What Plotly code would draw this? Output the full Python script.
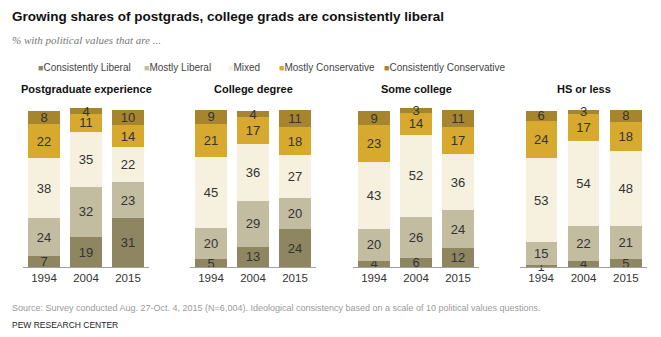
import plotly.graph_objects as go

# ---- data -------------------------------------------------------------
groups = ["Postgraduate experience", "College degree", "Some college", "HS or less"]
years = ["1994", "2004", "2015"]

# one list per education group, values for 1994 / 2004 / 2015
consistently_liberal = [[7, 19, 31], [5, 13, 24], [4, 6, 12], [1, 4, 5]]
mostly_liberal = [[24, 32, 23], [20, 29, 20], [20, 26, 24], [15, 22, 21]]
mixed = [[38, 35, 22], [45, 36, 27], [43, 52, 36], [53, 54, 48]]
mostly_conservative = [[22, 11, 14], [21, 17, 18], [23, 14, 17], [24, 17, 18]]
consistently_conservative = [[8, 4, 10], [9, 4, 11], [9, 3, 11], [6, 3, 8]]

series_names = ["Consistently Liberal", "Mostly Liberal", "Mixed",
                "Mostly Conservative", "Consistently Conservative"]
series_values = [consistently_liberal, mostly_liberal, mixed,
                 mostly_conservative, consistently_conservative]
series_colors = ["#8e8660", "#c2bca1", "#f6f0de", "#d7a92f", "#a6852e"]

# ---- layout geometry (pixels) -----------------------------------------
W, H = 661, 337
M_TOP, M_BOT = 103, 70
PLOT_H = H - M_TOP - M_BOT
BASE_Y = H - M_BOT
domains_px = [(23, 149), (190, 316), (353, 479), (520, 647)]

FONT = "Liberation Sans Narrow, Arial Narrow, Liberation Sans, Arial, sans-serif"


def py(y_px):
    """Pixel row -> paper y coordinate."""
    return (BASE_Y - y_px) / PLOT_H


def px(x_px):
    return x_px / W


fig = go.Figure()

for gi, group in enumerate(groups):
    xa = "x" if gi == 0 else f"x{gi + 1}"
    ya = "y" if gi == 0 else f"y{gi + 1}"
    for name, vals, color in zip(series_names, series_values, series_colors):
        fig.add_trace(go.Bar(
            x=years,
            y=vals[gi],
            name=name,
            marker=dict(color=color, line=dict(width=0)),
            text=[str(v) for v in vals[gi]],
            textposition="inside",
            insidetextanchor="middle",
            textangle=0,
            textfont=dict(family=FONT, size=13, color="#333333"),
            cliponaxis=False,
            showlegend=False,
            hoverinfo="skip",
            xaxis=xa,
            yaxis=ya,
        ))

layout = dict(
    width=W, height=H,
    margin=dict(l=0, r=0, t=M_TOP, b=M_BOT, pad=0),
    barmode="stack",
    bargap=0.26,
    plot_bgcolor="white",
    paper_bgcolor="white",
    showlegend=False,
    uniformtext=dict(minsize=13, mode="show"),
    font=dict(family=FONT, color="#333333"),
)

for gi, (a, b) in enumerate(domains_px):
    suffix = "" if gi == 0 else str(gi + 1)
    layout[f"xaxis{suffix}"] = dict(
        domain=[px(a), px(b)],
        anchor=f"y{suffix}",
        range=[-0.5, 2.5],
        showline=True, linecolor="#a0a0a0", linewidth=1,
        showgrid=False, zeroline=False, ticks="",
        tickfont=dict(family=FONT, size=11.5, color="#333333"),
        fixedrange=True,
    )
    layout[f"yaxis{suffix}"] = dict(
        domain=[0, 1],
        anchor=f"x{suffix}",
        range=[0, PLOT_H / 1.574],
        visible=False,
        fixedrange=True,
    )

fig.update_layout(**layout)

annotations = []

# chart title and subtitle
annotations.append(dict(
    text="<b>Growing shares of postgrads, college grads are consistently liberal</b>",
    x=px(10), y=py(16), xref="paper", yref="paper",
    xanchor="left", yanchor="middle", showarrow=False,
    font=dict(family=FONT, size=13.5, color="#111111"),
))
annotations.append(dict(
    text="<i>% with political values that are ...</i>",
    x=px(10), y=py(40), xref="paper", yref="paper",
    xanchor="left", yanchor="middle", showarrow=False,
    font=dict(family="Liberation Serif, serif", size=11, color="#777777"),
))

# legend row
legend_x = [36, 142, 226, 277, 382]
for name, color, lx in zip(series_names, series_colors, legend_x):
    annotations.append(dict(
        text=f"<span style='color:{color};font-size:9px'>■</span>{name}",
        x=px(lx), y=py(67), xref="paper", yref="paper",
        xanchor="left", yanchor="middle", showarrow=False,
        font=dict(family=FONT, size=10, color="#444444"),
    ))

# panel headings
for group, (a, b) in zip(groups, domains_px):
    annotations.append(dict(
        text=f"<b>{group}</b>",
        x=px((a + b) / 2), y=py(89), xref="paper", yref="paper",
        xanchor="center", yanchor="middle", showarrow=False,
        font=dict(family=FONT, size=11, color="#111111"),
    ))

# footer
annotations.append(dict(
    text="Source: Survey conducted Aug. 27-Oct. 4, 2015 (N=6,004). Ideological consistency "
         "based on a scale of 10 political values questions.",
    x=px(10), y=py(308), xref="paper", yref="paper",
    xanchor="left", yanchor="middle", showarrow=False,
    font=dict(family=FONT, size=9, color="#9a9a9a"),
))
annotations.append(dict(
    text="PEW RESEARCH CENTER",
    x=px(10), y=py(325), xref="paper", yref="paper",
    xanchor="left", yanchor="middle", showarrow=False,
    font=dict(family=FONT, size=8.5, color="#222222"),
))

fig.update_layout(annotations=annotations)

fig.write_html("out.html")
